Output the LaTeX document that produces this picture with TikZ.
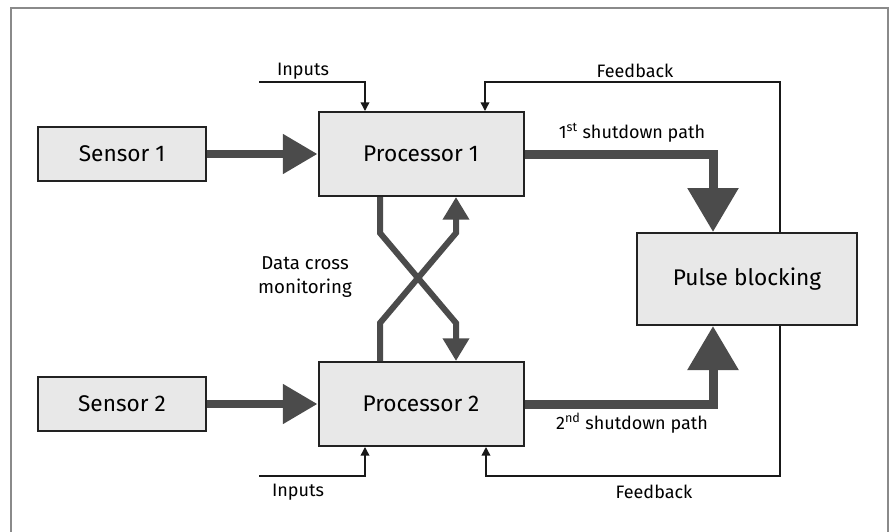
\documentclass[tikz,border=0pt]{standalone}
\usepackage{fontspec}
\setmainfont{Fira Sans}
\usepackage{xcolor}
\usepackage{tikz}
\usetikzlibrary{arrows.meta}
\definecolor{BoxFill} {HTML}{E8E8E8}
\definecolor{BoxLine} {HTML}{222222}
\definecolor{PathGry} {HTML}{4B4B4B}
\definecolor{FrameGry}{HTML}{8A8A8A}

\begin{document}
\begin{tikzpicture}[x=0.75pt, y=-0.75pt,
    block/.style={draw=BoxLine, fill=BoxFill, line width=1.5pt, inner sep=0pt,
      font=\fontsize{17}{20}\selectfont},
    label/.style={font=\fontsize{13.5}{16}\selectfont, inner sep=0pt},
    sensorarrow/.style={draw=PathGry, line width=6pt,
      -{Triangle[length=26pt, width=28.5pt]}},
    shutdown/.style={draw=PathGry, line width=6.75pt, line join=miter,
      -{Triangle[length=33pt, width=36.75pt]}},
    crossarrow/.style={draw=PathGry, line width=4.5pt, line join=miter,
      -{Triangle[length=17pt, width=19pt]}},
    signal/.style={draw=black!90, line width=1.1pt,
      -{Triangle[length=6.5pt, width=6.5pt]}}]
      \useasboundingbox (0,0) rectangle (890,532);
      % ── outer frame (open at the bottom) ─────────────────────────────────────
      \draw[FrameGry, line width=1.5pt] (11,532) -- (11,8) -- (888,8) -- (888,532);
      % ── blocks (sizes in pt: 0.75pt per unit) ────────────────────────────────
      \node[block, minimum width=126pt, minimum height=40.5pt] (s1) at (122,154) {Sensor 1};
      \node[block, minimum width=126pt, minimum height=40.5pt] (s2) at (122,404) {Sensor 2};
      \node[block, minimum width=153.75pt, minimum height=63pt] (p1) at (421,154) {Processor 1};
      \node[block, minimum width=153.75pt, minimum height=63pt] (p2) at (421,404) {Processor 2};
      \node[block, minimum width=165pt, minimum height=69pt] (pb) at (747,279) {Pulse blocking};
      % ── sensor inputs ────────────────────────────────────────────────────────
      \draw[sensorarrow] (s1.east) -- (p1.west);
      \draw[sensorarrow] (s2.east) -- (p2.west);
      % ── shutdown paths into pulse blocking ───────────────────────────────────
      \draw[shutdown] (p1.east) -| (713,0 |- pb.north);
      \draw[shutdown] (p2.east) -| (713,0 |- pb.south);
      \node[label] (sd1) at (632,133) {1\textsuperscript{st} shutdown path};
      \node[label] (sd2) at (632,423) {2\textsuperscript{nd} shutdown path};
      % ── data cross monitoring ────────────────────────────────────────────────
      \draw[crossarrow] (380,0 |- p1.south) -- (380,233) -- (456,323) -- (456,0 |- p2.north);
      \draw[crossarrow] (380,0 |- p2.north) -- (380,323) -- (456,233) -- (456,0 |- p1.south);
      \node[label, align=center, font=\fontsize{14}{18}\selectfont] (dcm) at (305,277)
        {Data cross\\monitoring};
      % ── inputs ───────────────────────────────────────────────────────────────
      \coordinate (in1) at (259,82);
      \coordinate (in2) at (259,476);
      \draw[signal] (in1) -| (365,0 |- p1.north);
      \draw[signal] (in2) -| (365,0 |- p2.south);
      \node[label] (inl1) at (303,71) {Inputs};
      \node[label] (inl2) at (298,492) {Inputs};
      % ── feedback from pulse blocking ─────────────────────────────────────────
      \draw[signal] (780,0 |- pb.north) |- (485,82) -- (485,0 |- p1.north);
      \draw[signal] (780,0 |- pb.south) |- (486,476) -- (486,0 |- p2.south);
      \node[label] (fbl1) at (635,71) {Feedback};
      \node[label] (fbl2) at (654,492) {Feedback};
    \end{tikzpicture}
\end{document}
